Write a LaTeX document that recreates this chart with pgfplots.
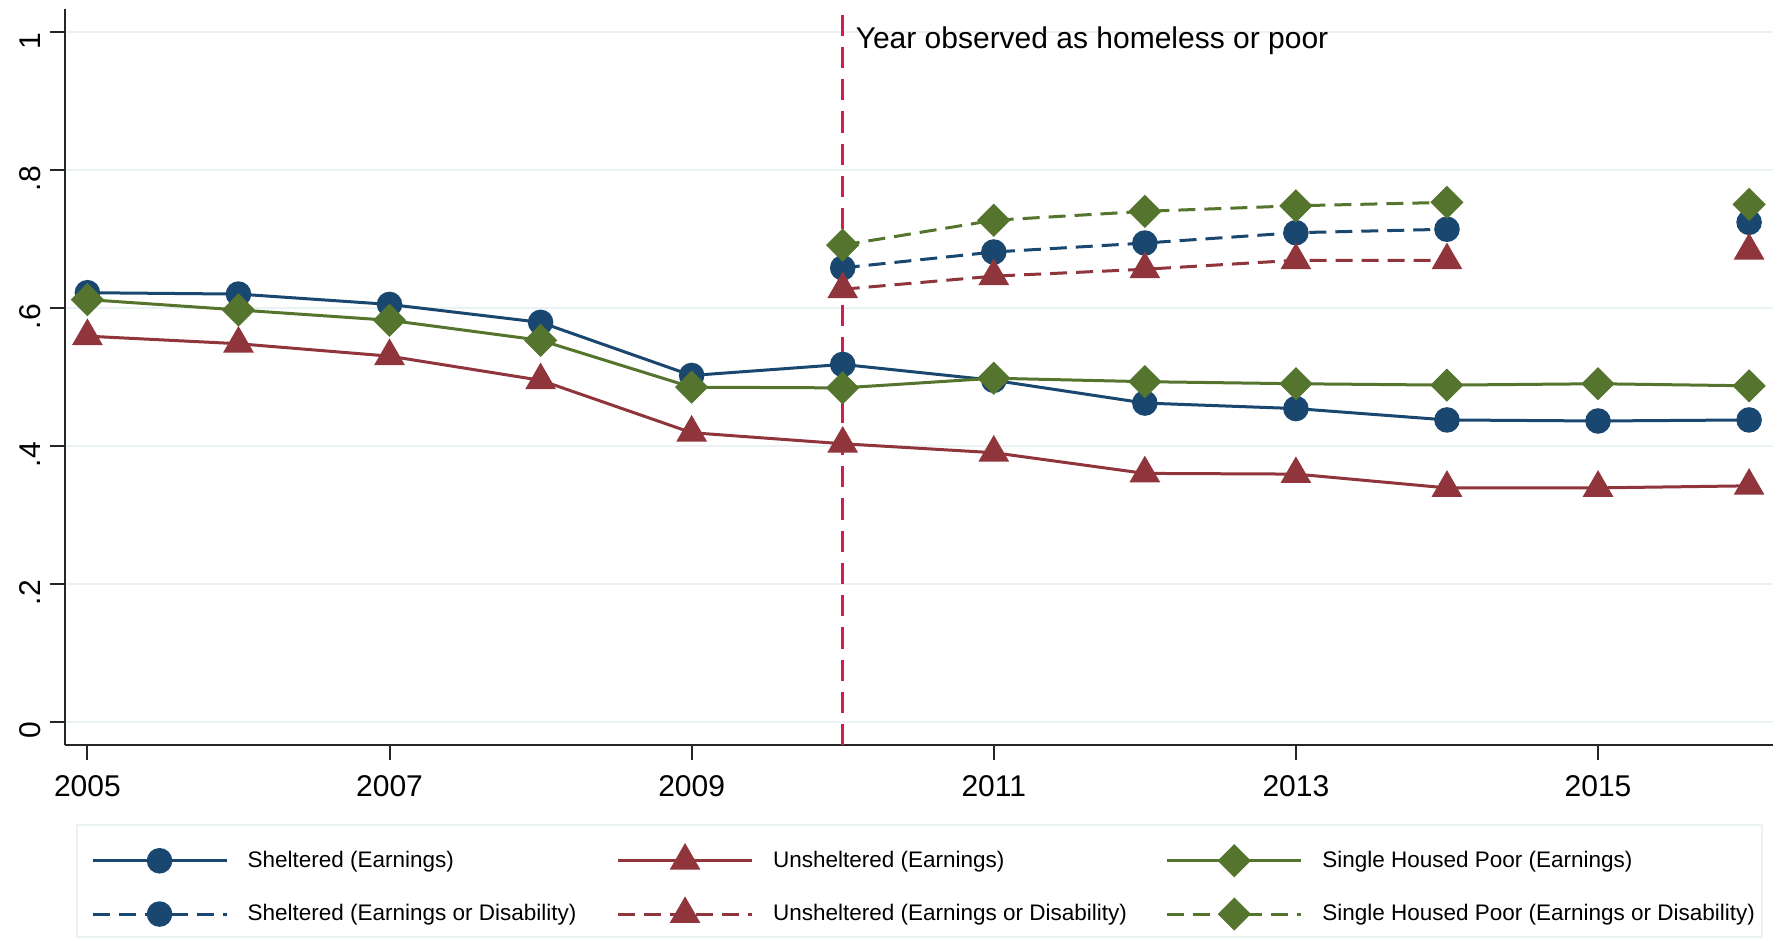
\documentclass[border=0pt]{standalone}
\usepackage{fontspec}
\setmainfont{Liberation Sans}
\usepackage{pgfplots}
\pgfplotsset{compat=1.18}
\definecolor{snavy}{RGB}{26,71,111}
\definecolor{smaroon}{RGB}{144,53,59}
\definecolor{sgreen}{RGB}{85,117,47}
\definecolor{sgrid}{RGB}{234,242,243}
\definecolor{vred}{RGB}{215,28,75}
\pgfplotsset{
  sline/.style={color=snavy, line width=1.2pt, mark=*, mark size=4.5pt, mark options={solid}},
  uline/.style={color=smaroon, line width=1.2pt, mark=triangle*, mark size=5.9pt, mark options={solid}},
  hline/.style={color=sgreen, line width=1.2pt, mark=square*, mark size=4.1pt, mark options={solid, rotate=45}},
  dsh/.style={dash pattern=on 6.8pt off 3.6pt},
}
\begin{document}
\begin{tikzpicture}
\useasboundingbox (0,0) rectangle (711.6pt,376.4pt);
\fill[white] (0,0) rectangle (711.6pt,376.4pt);
\draw[sgrid, line width=0.8pt, fill=white] (30.8pt,1.6pt) rectangle (704.8pt,46.4pt);
\begin{axis}[
  at={(25.9pt,78.2pt)}, anchor=south west,
  scale only axis, width=683.4pt, height=294.5pt,
  xmin=2004.85, xmax=2016.16, ymin=-0.0345, ymax=1.033,
  axis x line*=bottom, axis y line*=left,
  axis line style={black!85, line width=0.8pt, -},
  xtick={2005,2007,2009,2011,2013,2015},
  xticklabels={2005,2007,2009,2011,2013,2015},
  ytick={0,0.2,0.4,0.6,0.8,1},
  yticklabels={0,.2,.4,.6,.8,1},
  tick align=outside, major tick length=6pt,
  tick style={black!85, line width=0.8pt},
  ymajorgrids, grid style={sgrid, line width=0.8pt},
  ticklabel style={font=\fontsize{12}{14}\selectfont},
  xticklabel style={yshift=-2.6pt},
  yticklabel style={rotate=90, anchor=south, xshift=-3.5pt},
  /pgf/number format/assume math mode=true,
  unbounded coords=jump,
  clip=false,
  legend columns=3,
  legend style={at={(0.0151,-0.128)}, anchor=north west, draw=none, fill=none,
    inner sep=0pt, font=\fontsize{9}{11}\selectfont, row sep=4.9pt,
    nodes={inner sep=4.2pt}, cells={anchor=west}},
  legend image code/.code={\draw[mark repeat=2,mark phase=2,#1] plot coordinates {(0pt,0pt) (26.8pt,0pt) (53.6pt,0pt)};},
]
\addplot[vred, line width=1.2pt, dash pattern=on 8.5pt off 4.4pt, forget plot] coordinates {(2010,-0.0345) (2010,1.033)};

\addplot[sline] coordinates {(2005,0.622) (2006,0.620) (2007,0.605) (2008,0.579) (2009,0.502) (2010,0.518) (2011,0.495) (2012,0.462) (2013,0.454) (2014,0.4375) (2015,0.436) (2016,0.4375)};
\addlegendentry{\makebox[147pt][l]{\hspace{3.6pt}Sheltered (Earnings)}}
\addplot[uline] coordinates {(2005,0.559) (2006,0.548) (2007,0.530) (2008,0.495) (2009,0.419) (2010,0.403) (2011,0.390) (2012,0.360) (2013,0.359) (2014,0.339) (2015,0.339) (2016,0.342)};
\addlegendentry{\makebox[156.5pt][l]{\hspace{3.6pt}Unsheltered (Earnings)}}
\addplot[hline] coordinates {(2005,0.612) (2006,0.597) (2007,0.582) (2008,0.553) (2009,0.485) (2010,0.484) (2011,0.498) (2012,0.493) (2013,0.490) (2014,0.488) (2015,0.490) (2016,0.487)};
\addlegendentry{\makebox[147pt][l]{\hspace{3.6pt}Single Housed Poor (Earnings)}}

\addplot[sline, dsh] coordinates {(2010,0.658) (2011,0.681) (2012,0.694) (2013,0.709) (2014,0.714) (2015,nan) (2016,0.724)};
\addlegendentry{\makebox[147pt][l]{\hspace{3.6pt}Sheltered (Earnings or Disability)}}
\addplot[uline, dsh] coordinates {(2010,0.627) (2011,0.646) (2012,0.656) (2013,0.669) (2014,0.669) (2015,nan) (2016,0.683)};
\addlegendentry{\makebox[156.5pt][l]{\hspace{3.6pt}Unsheltered (Earnings or Disability)}}
\addplot[hline, dsh] coordinates {(2010,0.691) (2011,0.727) (2012,0.740) (2013,0.748) (2014,0.753) (2015,nan) (2016,0.750)};
\addlegendentry{\makebox[147pt][l]{\hspace{3.6pt}Single Housed Poor (Earnings or Disability)}}

\node[anchor=west, font=\fontsize{12}{14}\selectfont, inner sep=2pt] at (axis cs:2010.05,0.988) {Year observed as homeless or poor};
\end{axis}
\end{tikzpicture}
\end{document}
